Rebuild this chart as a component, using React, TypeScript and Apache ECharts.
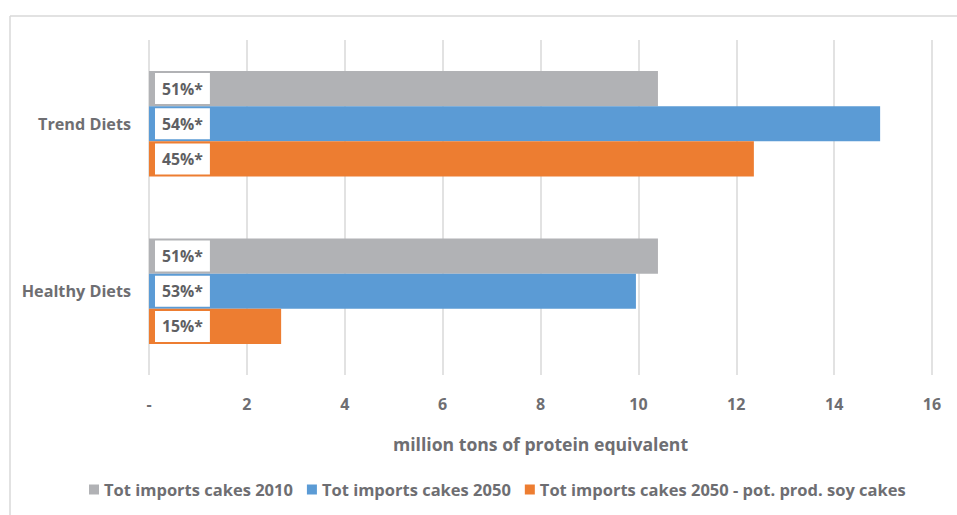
import React, { useEffect, useRef } from "react";
import * as echarts from "echarts";

const categories = ["Trend Diets", "Healthy Diets"];
const seriesNames = [
  "Tot imports cakes 2010",
  "Tot imports cakes 2050",
  "Tot imports cakes 2050 - pot. prod. soy cakes",
];
const imports2010 = [10.4, 10.4];
const imports2050 = [14.94, 9.95];
const imports2050Soy = [12.36, 2.7];
const labels2010 = ["51%*", "51%*"];
const labels2050 = ["54%*", "53%*"];
const labels2050Soy = ["45%*", "15%*"];
const xTickLabels = ["-", "2", "4", "6", "8", "10", "12", "14", "16"];
const colors = ["#b1b2b5", "#5b9bd5", "#ed7d31"];

const FONT = "'Open Sans', Lato, sans-serif";
const TEXT = "#6e6e72";

export default function App() {
  const ref = useRef<HTMLDivElement>(null);
  useEffect(() => {
    if (!ref.current) return;
    const chart = echarts.init(ref.current, undefined, { renderer: "svg" });
    const values = [imports2010, imports2050, imports2050Soy];
    const lbls = [labels2010, labels2050, labels2050Soy];
    chart.setOption({
      animation: false,
      backgroundColor: "#ffffff",
      textStyle: { fontFamily: FONT },
      graphic: [
        { type: "line", shape: { x1: 10, y1: 16, x2: 957, y2: 16 }, style: { stroke: "#d9d9d9", lineWidth: 1.5 } },
        { type: "line", shape: { x1: 10, y1: 16, x2: 10, y2: 515 }, style: { stroke: "#d9d9d9", lineWidth: 1.5 } },
      ],
      grid: { left: 149, right: 25, top: 40, bottom: 140, containLabel: false },
      legend: {
        bottom: 12,
        left: 84,
        icon: "rect",
        itemWidth: 10,
        itemHeight: 10,
        itemGap: 14,
        textStyle: { color: TEXT, fontSize: 16.5, fontWeight: "bold", fontFamily: FONT },
        data: seriesNames,
      },
      xAxis: {
        type: "value",
        min: 0,
        max: 16,
        interval: 2,
        name: "million tons of protein equivalent",
        nameLocation: "middle",
        nameGap: 60,
        nameTextStyle: { color: TEXT, fontSize: 17.6, fontWeight: "bold", fontFamily: FONT },
        axisLine: { show: false },
        axisTick: { show: false },
        axisLabel: {
          margin: 21,
          color: TEXT,
          fontSize: 16,
          fontWeight: "bold",
          fontFamily: FONT,
          formatter: (v: number) => xTickLabels[Math.round(v / 2)] ?? String(v),
        },
        splitLine: { show: true, lineStyle: { color: "#d9d9d9", width: 1.5 } },
      },
      yAxis: {
        type: "category",
        data: categories,
        inverse: true,
        axisLine: { show: false },
        axisTick: { show: false },
        axisLabel: { margin: 18, color: TEXT, fontSize: 16.2, fontWeight: "bold", fontFamily: FONT },
      },
      series: seriesNames.map((name, i) => ({
        name,
        type: "bar",
        data: values[i],
        barGap: "0%",
        barCategoryGap: "37%",
        itemStyle: { color: colors[i] },
        label: {
          show: true,
          position: "insideLeft",
          distance: 6,
          formatter: (p: any) => lbls[i][p.dataIndex],
          backgroundColor: "#ffffff",
          padding: [6, 7, 6, 7],
          lineHeight: 19,
          color: "#5f5f63",
          fontSize: 15.8,
          fontWeight: "bold",
          fontFamily: FONT,
        },
      })),
    });
    return () => chart.dispose();
  }, []);
  return (
    <div
      ref={ref}
      style={{ position: "fixed", left: 0, top: 0, width: 957, height: 515 }}
    />
  );
}
